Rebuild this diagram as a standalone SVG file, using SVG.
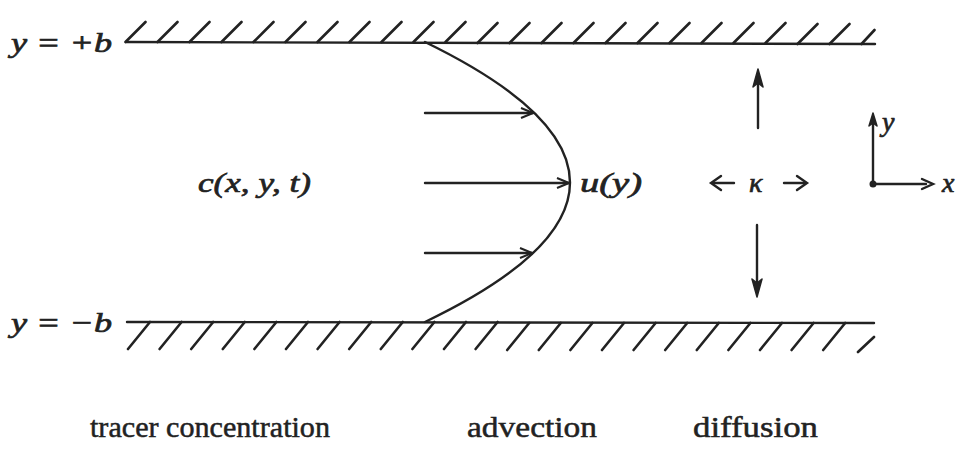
<svg xmlns="http://www.w3.org/2000/svg" width="965" height="456" viewBox="0 0 965 456">
<defs>
<style>
.ln{stroke:#222;stroke-width:2.4;fill:none;stroke-linecap:round}
.h{stroke:#222;stroke-width:2.6;fill:none;stroke-linecap:round}
.fa{fill:#222;stroke:#222;stroke-width:1.5;stroke-linejoin:round}
.m{font-family:"Liberation Serif","DejaVu Serif",serif;font-style:italic;font-size:28px;fill:#222;stroke:#222;stroke-width:0.7}
.r{font-family:"Liberation Serif","DejaVu Serif",serif;font-size:30px;fill:#222;stroke:#222;stroke-width:0.5}
</style>
<marker id="open" viewBox="0 0 14 12" refX="13" refY="6" markerWidth="14" markerHeight="12" markerUnits="userSpaceOnUse" orient="auto">
<path d="M1,1 L13,6 L1,11" fill="none" stroke="#222" stroke-width="2"/>
</marker>
</defs>
<rect width="965" height="456" fill="#fff"/>

<g id="top-wall">
<path class="ln" d="M126,42 L875,44"/>
<path class="h" d="M125.5,42 l20,-20 M157.5,42 l20,-20 M189.5,42 l20,-20 M221.5,42 l20,-20 M253.5,42 l20,-20 M285.5,42 l20,-20 M317.5,42 l20,-20 M349.5,42 l20,-20 M381.5,42 l20,-20 M413.5,42 l20,-20 M445.5,42 l20,-20 M477.5,43 l20,-20 M509.5,43 l20,-20 M541.5,43 l20,-20 M573.5,43 l20,-20 M605.5,43 l20,-20 M637.5,43 l20,-20 M669.5,43 l20,-20 M701.5,43 l20,-20 M733.5,43 l20,-20 M765.5,43 l20,-20 M797.5,44 l20,-20 M829.5,44 l20,-20 M861.5,44 l13,-14"/>
</g>

<g id="bottom-wall">
<path class="ln" d="M127,322 L874,323"/>
<path class="h" d="M128,349 l22,-27 M159.6,349 l22,-27 M191.2,349 l22,-27 M222.8,349 l22,-27 M254.4,349 l22,-27 M286,349 l22,-27 M317.6,349 l22,-27 M349.2,349 l22,-27 M380.8,349 l22,-27 M412.4,349 l22,-27 M444,349 l22,-27 M475.6,349 l22,-27 M507.2,350 l22,-27 M538.8,350 l22,-27 M570.4,350 l22,-27 M602,350 l22,-27 M633.6,350 l22,-27 M665.2,350 l22,-27 M696.8,350 l22,-27 M728.4,350 l22,-27 M760,350 l22,-27 M791.6,350 l22,-27 M823.2,350 l22,-27 M858,352 l16,-15"/>
</g>

<g id="profile">
<path class="ln" d="M425,42 Q715,183 425,322"/>
<path class="ln" d="M425,113 L533,113" marker-end="url(#open)"/>
<path class="ln" d="M425,183 L569,183" marker-end="url(#open)"/>
<path class="ln" d="M425,253 L532,253" marker-end="url(#open)"/>
</g>

<g id="diffusion">
<path class="ln" d="M758,128 L758,78" stroke-width="2.8"/>
<path class="fa" d="M758,69 L753,87 L758,83 L763,87 Z"/>
<path class="ln" d="M757,225 L757,288" stroke-width="2.8"/>
<path class="fa" d="M757,297 L752,279 L757,283 L762,279 Z"/>
<path class="ln" d="M713,183 L734,183" stroke-width="3"/>
<path class="ln" d="M721,176 L711,183 L721,190" stroke-width="3"/>
<path class="ln" d="M784,183 L805,183" stroke-width="3"/>
<path class="ln" d="M797,176 L807,183 L797,190" stroke-width="3"/>
<text class="m" x="749" y="192" font-size="30">κ</text>
</g>

<g id="axes">
<circle cx="873" cy="184" r="3.5" fill="#222"/>
<path class="ln" d="M873,184 L873,120"/>
<path class="fa" d="M873,113 L869,126 L873,123 L877,126 Z"/>
<path class="ln" d="M873,184 L926,184"/>
<path class="ln" d="M922,179 L933,184 L922,189"/>
<text class="m" x="882" y="131" font-size="25">y</text>
<text class="m" x="942" y="192" font-size="25">x</text>
</g>

<g id="labels">
<text class="m" x="11" y="52" textLength="101" lengthAdjust="spacingAndGlyphs">y = +b</text>
<text class="m" x="11" y="332" textLength="101" lengthAdjust="spacingAndGlyphs">y = −b</text>
<text class="m" x="198" y="192" textLength="113" lengthAdjust="spacingAndGlyphs">c(x, y, t)</text>
<text class="m" x="580" y="192" textLength="62" lengthAdjust="spacingAndGlyphs">u(y)</text>
<text class="r" x="90" y="437" textLength="240" lengthAdjust="spacingAndGlyphs">tracer concentration</text>
<text class="r" x="467" y="437" textLength="130" lengthAdjust="spacingAndGlyphs">advection</text>
<text class="r" x="693" y="437" textLength="125" lengthAdjust="spacingAndGlyphs">diffusion</text>
</g>
</svg>
